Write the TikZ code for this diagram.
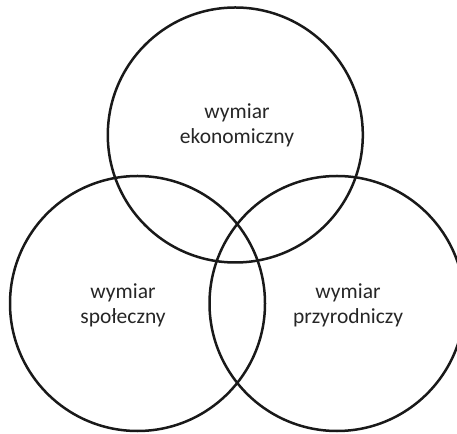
\documentclass[tikz,border=0pt]{standalone}
\usepackage{fontspec}
\setmainfont{Carlito}
\usetikzlibrary{positioning}

\begin{document}
\begin{tikzpicture}[x=1pt,y=1pt,
    krag/.style={draw=black!90, line width=2.5pt, circle, minimum size=255pt, inner sep=0pt},
    opis/.style={align=center, text=black!85, font=\fontsize{21.5}{25}\selectfont}]

    \clip (0,0) rectangle (457,433);

    \node[krag] (eko) at (235.3,298) {};
    \node[krag] (spo) at (137.5,129.5) {};
    \node[krag] (prz) at (337,129.5) {};

    \node[opis] (teko) at (237,307.5) {wymiar\\ekonomiczny};
    \node[opis] (tspo) at (123,127.5) {wymiar\\społeczny};
    \node[opis] (tprz) at (348,127.5) {wymiar\\przyrodniczy};

\end{tikzpicture}
\end{document}
